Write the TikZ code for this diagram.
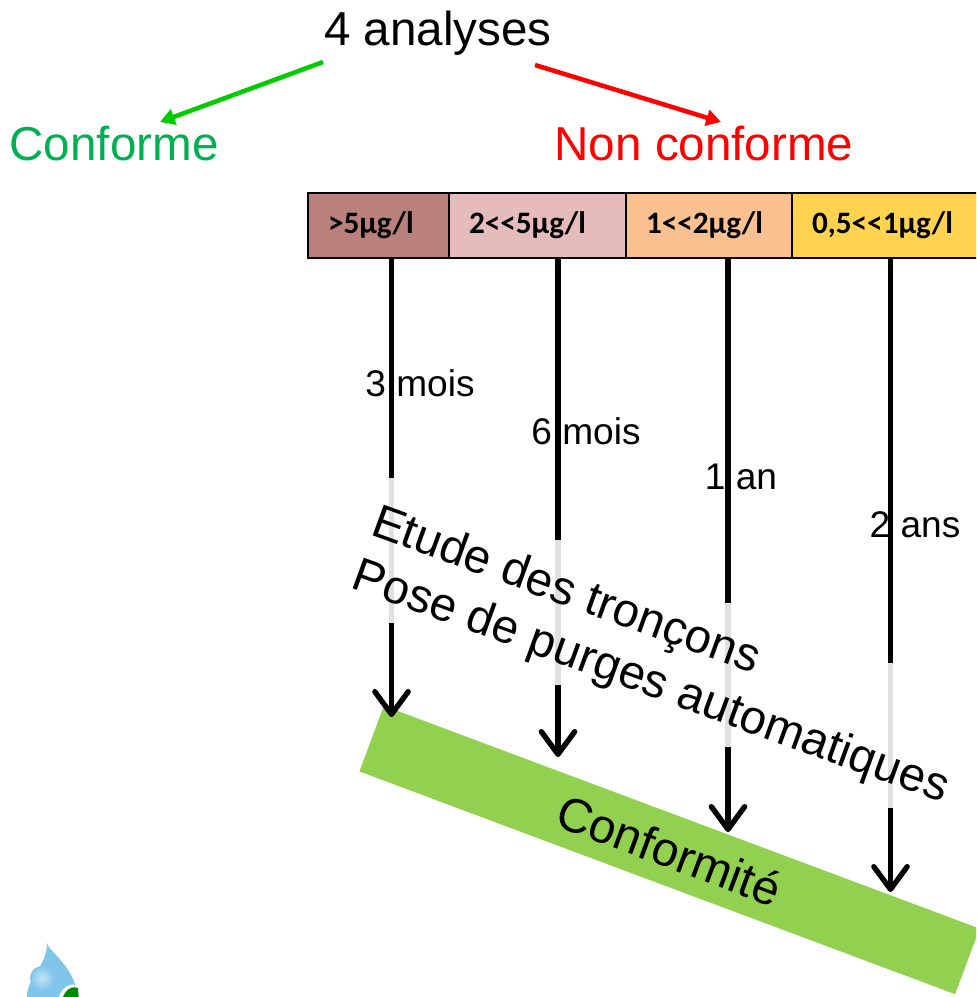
\documentclass[tikz,border=0pt]{standalone}
\usepackage{fontspec}
\setmainfont{Liberation Sans}
\newfontfamily\cellfont{Carlito}
\usetikzlibrary{arrows.meta,positioning}
\definecolor{barGreen}{HTML}{92D050}
\definecolor{okGreen}{HTML}{00B050}
\definecolor{okArrow}{HTML}{00CC00}
\definecolor{fadeGrey}{HTML}{E0E0E0}
\definecolor{dropBlue}{HTML}{80C5EA}
\definecolor{levelA}{HTML}{B9807C}
\definecolor{levelB}{HTML}{E6BBBB}
\definecolor{levelC}{HTML}{FBC08F}
\definecolor{levelD}{HTML}{FFD34F}
\tikzset{
  title/.style  = {font=\fontsize{35.7}{40}\selectfont,inner sep=0pt},
  delay/.style  = {font=\fontsize{27.8}{32}\selectfont,inner sep=0pt},
  slanted/.style= {font=\fontsize{35.6}{42.5}\selectfont,inner sep=0pt,rotate=-20,align=left},
  level/.style  = {draw=black,line width=1.9pt,outer sep=0pt,inner xsep=15pt,inner ysep=0pt,
                   minimum height=48.6pt,align=left,font=\cellfont\bfseries\fontsize{23.4}{26}\selectfont},
  wait/.style   = {-{Straight Barb[length=17pt,width=25pt,line width=4pt,round]},line width=4.1pt},
  fade/.style   = {fadeGrey,line width=4.1pt},
  pick/.style   = {-{Triangle[length=11pt,width=12pt]},line width=3.4pt}
}
\begin{document}
\begin{tikzpicture}[x=0.75pt,y=-0.75pt]
\clip (0,0) rectangle (976,997);

% results
\node[title] (N0) at (438,33) {4 analyses};
\node[title,text=okGreen] (N1) at (114,144) {Conforme};
\node[title,text=red] (N2) at (704,144) {Non conforme};

\coordinate (P0) at (323,62);
\coordinate (P1) at (160,122);
\coordinate (P2) at (535,65);
\coordinate (P3) at (721,122);
\draw[pick,okArrow] (P0) -- (P1);
\draw[pick,red]     (P2) -- (P3);

% levels
\node[level,fill=levelA,text width=75.75pt,anchor=north west] (L1) at (308,193) {>5µg/l};
\node[level,fill=levelB,text width=102.75pt,right=0pt of L1] (L2) {2<{}<5µg/l};
\node[level,fill=levelC,text width=94.5pt,right=0pt of L2] (L3) {1<{}<2µg/l};
\node[level,fill=levelD,text width=120pt,right=0pt of L3] (L4) {0,5<{}<1µg/l};

% target
\node[fill=barGreen,rotate=-20.5,minimum width=477pt,minimum height=52.5pt,inner sep=0pt,
      font=\fontsize{36}{40}\selectfont] (C0) at (669.5,850) {Conformité};

\coordinate (A1) at (391.5,258);
\coordinate (A2) at (558,258);
\coordinate (A3) at (728,258);
\coordinate (A4) at (890.5,258);
\coordinate (B1) at (391.5,717);
\coordinate (B2) at (558,757);
\coordinate (B3) at (728,832);
\coordinate (B4) at (890.5,892);

\draw[wait] (A1) -- (B1);
\draw[wait] (A2) -- (B2);
\draw[wait] (A3) -- (B3);
\draw[wait] (A4) -- (B4);

% faded parts
\coordinate (F1) at (391.5,478);
\coordinate (G1) at (391.5,623);
\coordinate (F2) at (558,540);
\coordinate (G2) at (558,685);
\coordinate (F3) at (728,603);
\coordinate (G3) at (728,747);
\coordinate (F4) at (890.5,663);
\coordinate (G4) at (890.5,808);
\draw[fade] (F1) -- (G1);
\draw[fade] (F2) -- (G2);
\draw[fade] (F3) -- (G3);
\draw[fade] (F4) -- (G4);

\node[delay] (D1) at (420,383) {3 mois};
\node[delay] (D2) at (586,431) {6 mois};
\node[delay] (D3) at (741,477) {1 an};
\node[delay] (D4) at (915,525) {2 ans};

\node[slanted] (E1) at (660,657) {Etude des tronçons\\Pose de purges automatiques};

% drop
\path[fill=dropBlue] (47,943) .. controls (49,952) and (77,968) .. (78,1000) -- (27,1000)
  .. controls (25,978) and (47,968) .. (47,943) -- cycle;
\shade[inner color=white!55!dropBlue,outer color=dropBlue,draw=none] (42,978) circle (12);
\path[fill=white] (58,1000) .. controls (60,990) and (68,981) .. (79,986) -- (81,1000) -- cycle;
\path[fill=green!55!black] (62,1000) .. controls (64,992) and (70,985) .. (78,988) -- (79,1000) -- cycle;
\end{tikzpicture}
\end{document}
